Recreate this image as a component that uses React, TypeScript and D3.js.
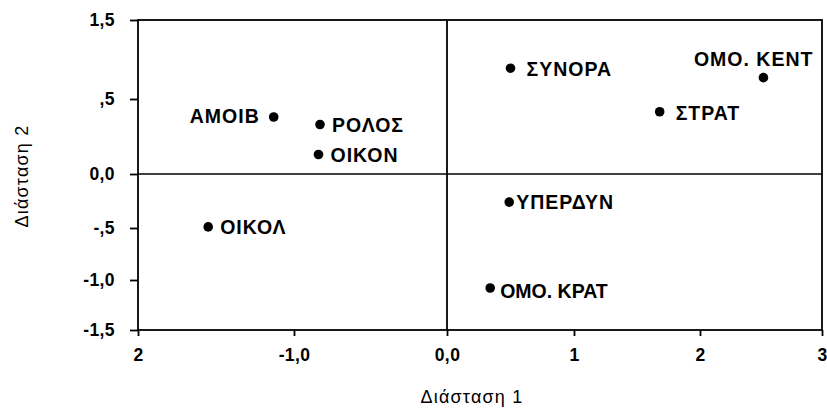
import { useEffect, useRef } from "react";
import * as d3 from "d3";

// category points (Διάσταση 1, Διάσταση 2)
const names = ["ΑΜΟΙΒ", "ΡΟΛΟΣ", "ΟΙΚΟΝ", "ΟΙΚΟΛ", "ΣΥΝΟΡΑ", "ΟΜΟ. ΚΕΝΤ", "ΣΤΡΑΤ", "ΥΠΕΡΔΥΝ", "ΟΜΟ. ΚΡΑΤ"];
const dim1 = [-1.13, -0.83, -0.84, -1.55, 0.5, 2.52, 1.68, 0.49, 0.34];
const dim2 = [0.38, 0.33, 0.13, -0.49, 0.89, 0.77, 0.415, -0.26, -1.08];

// tick labels as printed on the original
const xTicks = [-2, -1, 0, 1, 2, 3];
const xTickLabels = ["2", "-1,0", "0,0", "1", "2", "3"];
const yTicks = [1.5, 0.5, 0, -0.5, -1, -1.5];
const yTickLabels = ["1,5", ",5", "0,0", "-,5", "-1,0", "-1,5"];

const W = 827;
const H = 416;
const FONT = "'Liberation Sans', Arial, sans-serif";

export default function App() {
  const ref = useRef<SVGSVGElement>(null);

  useEffect(() => {
    const svg = d3.select(ref.current);
    svg.selectAll("*").remove();

    // the scanned plot is not evenly spaced, so use piecewise scales
    const x = d3.scaleLinear().domain(xTicks).range([138, 294, 447, 574, 700, 822]);
    const y = d3.scaleLinear().domain(yTicks).range([20, 99, 174, 228, 280, 330]);
    const [x0, x1] = [x(-2), x(3)];
    const [y0, y1] = [y(1.5), y(-1.5)];

    const g = svg.append("g").attr("font-family", FONT).attr("fill", "#000");

    // frame
    g.append("rect")
      .attr("x", x0)
      .attr("y", y0)
      .attr("width", x1 - x0)
      .attr("height", y1 - y0)
      .attr("fill", "none")
      .attr("stroke", "#000")
      .attr("stroke-width", 1.8);

    // zero lines
    g.append("line")
      .attr("x1", x(0)).attr("x2", x(0))
      .attr("y1", y0).attr("y2", y1)
      .attr("stroke", "#000").attr("stroke-width", 1.8);
    g.append("line")
      .attr("x1", x0).attr("x2", x1)
      .attr("y1", y(0)).attr("y2", y(0))
      .attr("stroke", "#000").attr("stroke-width", 1.5);

    // axes
    const xAxis = d3
      .axisBottom(x)
      .tickValues(xTicks)
      .tickSize(6)
      .tickPadding(13)
      .tickFormat((_d, i) => xTickLabels[i]);
    const gx = g.append("g").attr("transform", `translate(0,${y1})`).call(xAxis);

    const yAxis = d3
      .axisLeft(y)
      .tickValues(yTicks)
      .tickSize(8)
      .tickPadding(15)
      .tickFormat((_d, i) => yTickLabels[i]);
    const gy = g.append("g").attr("transform", `translate(${x0},0)`).call(yAxis);

    [gx, gy].forEach((a) => {
      a.select(".domain").remove();
      a.selectAll(".tick line").attr("stroke", "#000").attr("stroke-width", 1.8);
      a.selectAll(".tick text")
        .attr("fill", "#000")
        .attr("font-family", FONT)
        .attr("font-size", 17.5)
        .attr("font-weight", "bold")
        .attr("letter-spacing", 0.4);
    });

    // points
    const data = names.map((n, i) => ({ name: n, a: dim1[i], b: dim2[i] }));
    g.selectAll("circle.pt")
      .data(data)
      .join("circle")
      .attr("class", "pt")
      .attr("cx", (d) => x(d.a))
      .attr("cy", (d) => y(d.b))
      .attr("r", 4.8)
      .attr("fill", "#000");

    // label placement
    const place: Record<string, { dx?: number; dy?: number; anchor?: string; ls?: number }> = {
      "ΑΜΟΙΒ": { dx: -14, dy: 6, anchor: "end" },
      "ΟΜΟ. ΚΕΝΤ": { dx: 50, dy: -12, anchor: "end" },
      "ΥΠΕΡΔΥΝ": { dx: 7 },
      "ΟΜΟ. ΚΡΑΤ": { dx: 10, dy: 10, ls: 0 },
      "ΣΥΝΟΡΑ": { dx: 16, dy: 8 },
      "ΣΤΡΑΤ": { dx: 16, dy: 8 },
    };
    g.selectAll("text.lbl")
      .data(data)
      .join("text")
      .attr("class", "lbl")
      .attr("x", (d) => x(d.a) + (place[d.name]?.dx ?? 12))
      .attr("y", (d) => y(d.b) + (place[d.name]?.dy ?? 7))
      .attr("text-anchor", (d) => place[d.name]?.anchor ?? "start")
      .attr("font-size", 19.5)
      .attr("font-weight", "bold")
      .attr("letter-spacing", (d) => place[d.name]?.ls ?? 1)
      .text((d) => d.name);

    // axis titles
    g.append("text")
      .attr("x", 472)
      .attr("y", 403)
      .attr("text-anchor", "middle")
      .attr("font-size", 18)
      .attr("letter-spacing", 1.2)
      .text("Διάσταση 1");
    g.append("text")
      .attr("transform", `translate(28,176) rotate(-90)`)
      .attr("text-anchor", "middle")
      .attr("font-size", 18)
      .attr("letter-spacing", 1.2)
      .text("Διάσταση 2");
  }, []);

  return (
    <div style={{ position: "absolute", left: 0, top: 0, background: "#fff" }}>
      <svg ref={ref} width={W} height={H} />
    </div>
  );
}
